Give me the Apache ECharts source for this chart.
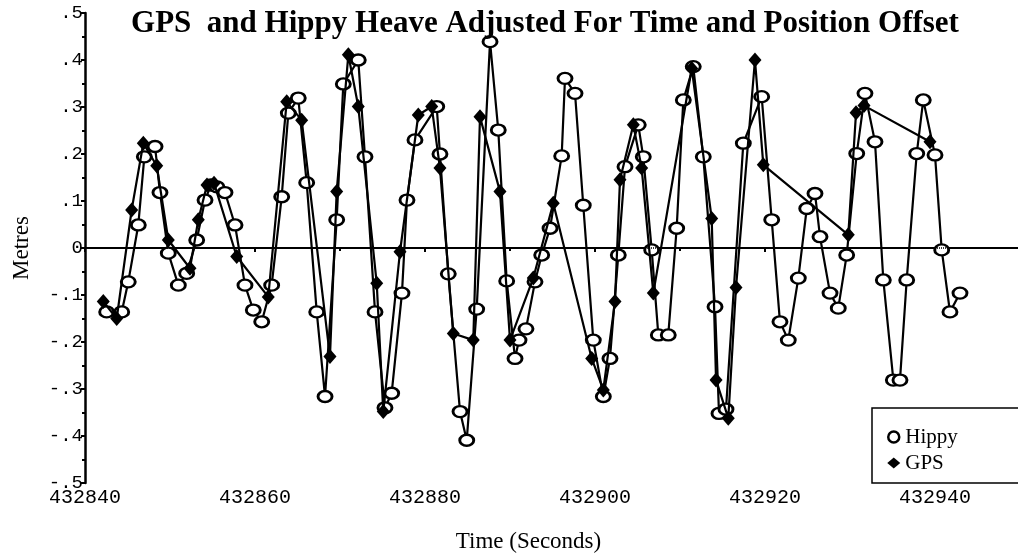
<!DOCTYPE html>
<html>
<head>
<meta charset="utf-8">
<script src="https://cdn.jsdelivr.net/npm/echarts@6/dist/echarts.min.js"></script>
<style>
  html, body { margin: 0; padding: 0; background: #fff; }
  #chart { width: 1018px; height: 558px; }
</style>
</head>
<body>
<div id="chart"></div>
<script>
// Hippy heave record: time (s) and heave (m)
const hippyTime = [
  432842.55, 432844.32, 432845.09, 432846.27, 432846.98, 432848.24, 432848.82, 432849.80,
  432850.98, 432851.96, 432853.14, 432854.12, 432854.82, 432855.53, 432856.47, 432857.65,
  432858.82, 432859.80, 432860.79, 432861.96, 432863.14, 432863.92, 432865.09, 432866.08,
  432867.26, 432868.24, 432869.61, 432870.39, 432872.15, 432872.94, 432874.12, 432875.29,
  432876.08, 432877.29, 432877.88, 432878.82, 432881.38, 432881.76, 432882.74, 432884.12,
  432884.91, 432886.08, 432887.65, 432888.62, 432889.61, 432890.59, 432891.06, 432891.88,
  432892.94, 432893.73, 432894.71, 432896.08, 432896.47, 432897.65, 432898.62, 432899.80,
  432900.98, 432901.76, 432902.74, 432903.53, 432905.09, 432905.68, 432906.67, 432907.45,
  432908.62, 432909.61, 432910.39, 432911.56, 432912.74, 432914.12, 432914.59, 432915.41,
  432917.45, 432919.61, 432920.79, 432921.76, 432922.74, 432923.92, 432924.91, 432925.88,
  432926.47, 432927.65, 432928.62, 432929.61, 432930.79, 432931.76, 432932.94, 432933.92,
  432935.10, 432935.88, 432936.67, 432937.85, 432938.62, 432940.00, 432940.79, 432941.76,
  432942.94
];
const hippyHeave = [
  -0.136, -0.136, -0.072, 0.049, 0.194, 0.216, 0.118, -0.011,
  -0.079, -0.054, 0.017, 0.102, 0.134, 0.130, 0.118, 0.049,
  -0.079, -0.132, -0.157, -0.079, 0.109, 0.287, 0.319, 0.139,
  -0.136, -0.316, 0.060, 0.349, 0.400, 0.194, -0.136, -0.340,
  -0.309, -0.096, 0.102, 0.230, 0.301, 0.200, -0.055, -0.348,
  -0.409, -0.130, 0.439, 0.251, -0.070, -0.235, -0.196, -0.172,
  -0.072, -0.015, 0.042, 0.196, 0.361, 0.329, 0.091, -0.196,
  -0.316, -0.235, -0.015, 0.173, 0.262, 0.194, -0.004, -0.185,
  -0.185, 0.042, 0.315, 0.386, 0.194, -0.125, -0.352, -0.343,
  0.223, 0.322, 0.060, -0.157, -0.196, -0.064, 0.084, 0.116,
  0.024, -0.096, -0.128, -0.015, 0.201, 0.329, 0.226, -0.068,
  -0.281, -0.281, -0.068, 0.201, 0.315, 0.198, -0.004, -0.136,
  -0.096
];

// GPS heave record: time (s) and heave (m)
const gpsTime = [
  432842.15, 432843.73, 432845.49, 432846.86, 432848.44, 432849.80, 432852.35, 432853.33,
  432854.35, 432855.18, 432857.85, 432861.56, 432863.73, 432865.49, 432868.82, 432869.61,
  432870.98, 432872.15, 432874.32, 432875.09, 432877.06, 432879.21, 432880.79, 432881.76,
  432883.33, 432885.68, 432886.47, 432888.82, 432890.00, 432892.74, 432895.09, 432899.61,
  432900.98, 432902.35, 432902.94, 432904.51, 432905.49, 432906.86, 432911.38, 432913.73,
  432914.24, 432915.68, 432916.59, 432918.82, 432919.80, 432929.80, 432930.71, 432931.65,
  432939.41
];
const gpsHeave = [
  -0.114, -0.150, 0.081, 0.223, 0.175, 0.017, -0.043, 0.060,
  0.134, 0.138, -0.018, -0.104, 0.311, 0.272, -0.231, 0.120,
  0.411, 0.301, -0.075, -0.348, -0.008, 0.283, 0.301, 0.170,
  -0.182, -0.196, 0.279, 0.120, -0.196, -0.064, 0.095, -0.235,
  -0.302, -0.114, 0.145, 0.262, 0.170, -0.096, 0.382, 0.063,
  -0.281, -0.362, -0.084, 0.400, 0.177, 0.028, 0.288, 0.303,
  0.226
];

const titleText = 'GPS  and Hippy Heave Adjusted For Time and Position Offset';
const xName = 'Time (Seconds)';
const yName = 'Metres';

const pairs = (xs, ys) => xs.map((x, i) => [x, ys[i]]);

const serif = '"Liberation Serif", "Times New Roman", serif';
const mono = '"Liberation Mono", "DejaVu Sans Mono", monospace';

function metreLabel(v) {
  const r = Math.round(v * 10) / 10;
  if (r === 0) return '0';
  const s = Math.abs(r).toFixed(1).replace(/^0/, '');
  return (r < 0 ? '-' : '') + s;
}

const chart = echarts.init(document.getElementById('chart'), null, { renderer: 'canvas' });

chart.setOption({
  animation: false,
  backgroundColor: '#ffffff',
  title: {
    text: titleText,
    left: 540,
    textAlign: 'center',
    top: 3,
    textStyle: { fontFamily: serif, fontWeight: 'bold', fontSize: 31, color: '#000' }
  },
  legend: {
    left: 872,
    top: 408,
    orient: 'vertical',
    padding: [17, 90, 8, 15],
    itemGap: 2,
    itemWidth: 13,
    itemHeight: 11,
    borderColor: '#000',
    borderWidth: 1.5,
    backgroundColor: '#fff',
    textStyle: { fontFamily: serif, fontSize: 21, color: '#000', lineHeight: 24 },
    data: [
      { name: 'Hippy', icon: 'circle', itemStyle: { color: '#fff', borderColor: '#000', borderWidth: 2.5 } },
      { name: 'GPS', icon: 'diamond', itemStyle: { color: '#000', borderWidth: 0 } }
    ]
  },
  grid: { left: 85, top: 13, width: 935, height: 470, containLabel: false, outerBoundsMode: 'none' },
  xAxis: {
    type: 'value',
    min: 432840,
    max: 432950,
    interval: 20,
    name: xName,
    nameLocation: 'middle',
    nameGap: 47,
    nameTextStyle: { fontFamily: serif, fontSize: 23, color: '#000', padding: [0, 48, 0, 0] },
    axisLine: { show: true, lineStyle: { color: '#000', width: 2 } },
    axisTick: { show: true, length: 4, lineStyle: { color: '#000', width: 2 } },
    minorTick: { show: true, splitNumber: 2, length: 3, lineStyle: { color: '#000', width: 2 } },
    splitLine: { show: false },
    axisLabel: {
      fontFamily: mono, fontSize: 20, color: '#000', margin: 5,
      showMaxLabel: false,
      formatter: v => String(Math.round(v))
    }
  },
  yAxis: {
    type: 'value',
    min: -0.5,
    max: 0.5,
    interval: 0.1,
    name: yName,
    nameLocation: 'middle',
    nameRotate: 90,
    nameGap: 52,
    nameTextStyle: { fontFamily: serif, fontSize: 23, color: '#000' },
    axisLine: { show: true, lineStyle: { color: '#000', width: 2.5 } },
    axisTick: { show: true, length: 4, lineStyle: { color: '#000', width: 2 } },
    minorTick: { show: true, splitNumber: 2, length: 3, lineStyle: { color: '#000', width: 2 } },
    splitLine: { show: false },
    axisLabel: {
      fontFamily: mono, fontSize: 19, color: '#000', margin: 2,
      formatter: metreLabel
    }
  },
  series: [
    {
      name: 'Hippy',
      type: 'line',
      data: pairs(hippyTime, hippyHeave),
      symbol: 'circle',
      symbolSize: [14, 11],
      showAllSymbol: true,
      lineStyle: { color: '#000', width: 2.2 },
      itemStyle: { color: '#fff', borderColor: '#000', borderWidth: 2.6 },
      z: 3,
      markLine: {
        silent: true,
        symbol: ['none', 'none'],
        label: { show: false },
        lineStyle: { color: '#000', type: [1, 1], width: 1.5 },
        data: [{ yAxis: 0 }]
      }
    },
    {
      name: 'GPS',
      type: 'line',
      data: pairs(gpsTime, gpsHeave),
      symbol: 'diamond',
      symbolSize: [13, 15],
      showAllSymbol: true,
      lineStyle: { color: '#000', width: 2.2 },
      itemStyle: { color: '#000', borderWidth: 0 },
      z: 4
    }
  ]
});
</script>
</body>
</html>
